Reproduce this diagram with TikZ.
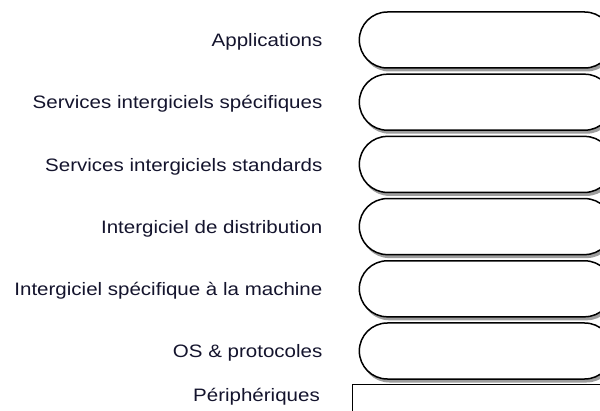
\documentclass[tikz,border=0pt]{standalone}
\usepackage{fontspec}
\setmainfont{Liberation Sans}[FakeStretch=1.14]
\usepackage{xcolor}
\usepackage{tikz}
\usetikzlibrary{shapes.misc, shadows, positioning}
\definecolor{labelink}{RGB}{20,20,45}
\tikzstyle{layer} = [rounded rectangle, minimum width=260pt, minimum height=56pt, draw=black, line width=1.5pt, fill=white, drop shadow={fill=black!70, opacity=0.55, shadow xshift=2pt, shadow yshift=-3.5pt}]
\tikzstyle{device} = [rectangle, minimum width=300pt, minimum height=60pt, draw=black, line width=1.1pt, fill=white]
\tikzstyle{caption} = [anchor=east, text=labelink, font=\fontsize{18}{21}\selectfont, inner sep=0pt]

\begin{document}
\begin{tikzpicture}[node distance=62.2pt]
		\useasboundingbox (0,0) rectangle (600pt,410pt);
		\clip (0,0) rectangle (600pt,410pt);
		\node (app) [layer] at (486pt,370pt) {};
		\node (spec) [layer,below of=app] {};
		\node (std) [layer,below of=spec] {};
		\node (distrib) [layer,below of=std] {};
		\node (machine) [layer,below of=distrib] {};
		\node (os) [layer,below of=machine] {};
		\node (periph) [device,anchor=north west] at (352pt,26pt) {};
		\node [caption] at ([xshift=-36pt,yshift=-2pt]app.west) {Applications};
		\node [caption] at ([xshift=-36pt,yshift=-2pt]spec.west) {Services intergiciels spécifiques};
		\node [caption] at ([xshift=-36pt,yshift=-2pt]std.west) {Services intergiciels standards};
		\node [caption] at ([xshift=-36pt,yshift=-2pt]distrib.west) {Intergiciel de distribution};
		\node [caption] at ([xshift=-36pt,yshift=-2pt]machine.west) {Intergiciel spécifique à la machine};
		\node [caption] at ([xshift=-36pt,yshift=-2pt]os.west) {OS \& protocoles};
		\node [caption] at ([xshift=-32pt,yshift=-13pt]periph.north west) {Périphériques};
	\end{tikzpicture}
\end{document}
